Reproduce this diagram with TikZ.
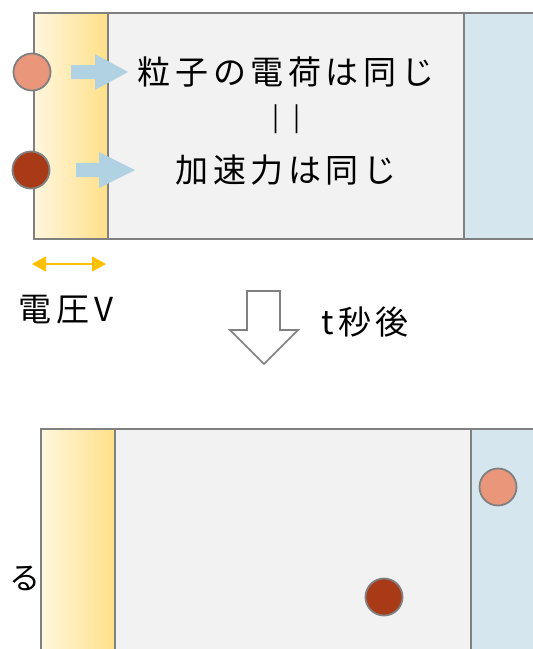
\documentclass[tikz,border=0pt]{standalone}
\usepackage{fontspec}
\newfontfamily\jp[LetterSpace=14]{Noto Sans CJK JP}
\newfontfamily\jpn{Noto Sans CJK JP}
\usetikzlibrary{arrows.meta}
\definecolor{edge}{HTML}{808080}
\definecolor{gap}{HTML}{F2F2F2}
\definecolor{rbox}{HTML}{D6E6EF}
\definecolor{yA}{HTML}{FFF6DE}
\definecolor{yB}{HTML}{FFE088}
\definecolor{light}{HTML}{EA967A}
\definecolor{dark}{HTML}{A93A17}
\definecolor{barrow}{HTML}{B0D2E2}
\definecolor{volt}{HTML}{FFC000}
\tikzset{
  plate/.style={draw=edge, line width=1.6pt, left color=yA, right color=yB},
  gapbox/.style={draw=edge, line width=1.6pt, fill=gap},
  rightbox/.style={draw=edge, line width=1.6pt, fill=rbox},
  particle/.style={circle, draw=edge, line width=1.8pt, minimum size=37pt, inner sep=0pt},
  lbl/.style={font=\jp\fontsize{33}{33}\selectfont, inner sep=0pt, text=black},
  blockarrow/.style={fill=barrow, draw=none},
}
\begin{document}
\begin{tikzpicture}[x=1pt,y=-1pt]
\useasboundingbox (0,0) rectangle (533,649);
\clip (0,0) rectangle (533,649);
\fill[white] (0,0) rectangle (533,649);
% top apparatus
\path[plate] (34,13) rectangle (108,239);
\path[gapbox] (108,13) rectangle (464,239);
\path[rightbox] (464,13) rectangle (545,239);
% particles
\node[particle, fill=light] (p1) at (32,72) {};
\node[particle, fill=dark] (p2) at (31,170) {};
% block arrows
\path[blockarrow] (71,65) -- (95,65) -- (95,54) -- (128,72) -- (95,90) -- (95,79) -- (71,79) -- cycle;
\path[blockarrow] (76,163) -- (99,163) -- (99,152) -- (135,170) -- (99,188) -- (99,177) -- (76,177) -- cycle;
% texts
\node[lbl] (t1) at (286,72) {粒子の電荷は同じ};
\node[lbl, font=\jpn\fontsize{26}{26}\selectfont] (t2) at (287,119) {|\kern14pt|};
\node[lbl] (t3) at (286,170) {加速力は同じ};
% voltage
\coordinate (va) at (32,264);
\coordinate (vb) at (106,264);
\draw[volt, line width=1.6pt, {Triangle[length=14pt,width=15pt]}-{Triangle[length=14pt,width=15pt]}] (va) -- (vb);
\node[lbl] (v) at (66,310) {電圧V};
% down arrow
\draw[edge, line width=1.6pt, fill=white] (247,291) -- (280,291) -- (280,330) -- (298,330) -- (264,364) -- (230,330) -- (247,330) -- cycle;
\node[lbl] (tt) at (365,322) {t秒後};
% bottom apparatus
\path[plate] (41,429) rectangle (115,670);
\path[gapbox] (115,429) rectangle (471,670);
\path[rightbox] (471,429) rectangle (545,670);
\node[particle, fill=light] (q1) at (498,487) {};
\node[particle, fill=dark] (q2) at (384,597) {};
\node[font=\jpn\fontsize{31}{31}\selectfont, inner sep=0pt] (ru) at (25,578) {る};
\end{tikzpicture}
\end{document}
